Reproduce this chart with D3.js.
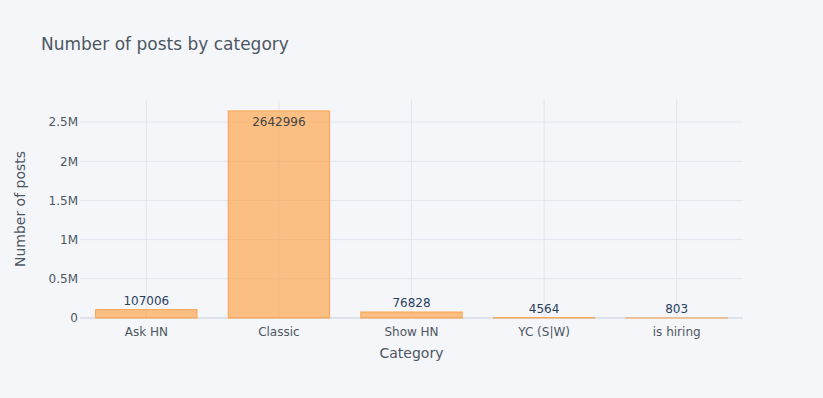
<!DOCTYPE html>
<html>
<head>
<meta charset="utf-8">
<script src="https://cdn.jsdelivr.net/npm/d3@7"></script>
<style>
  body { margin: 0; background: #f5f6f9; }
  svg { display: block; font-family: "DejaVu Sans", Verdana, sans-serif; }
</style>
</head>
<body>
<div id="chart"></div>
<script>
// Data
const categories = ["Ask HN", "Classic", "Show HN", "YC (S|W)", "is hiring"];
const posts = [107006, 2642996, 76828, 4564, 803];
const yTicks = [0, 500000, 1000000, 1500000, 2000000, 2500000];
const yTickLabels = ["0", "0.5M", "1M", "1.5M", "2M", "2.5M"];

const width = 823;
const height = 398;
const margin = { top: 100, right: 80, bottom: 80, left: 80 };

const textColor = "#4d5663";
const gridColor = "#e1e5ed";

const data = categories.map((c, i) => ({ category: c, value: posts[i] }));

const svg = d3.select("#chart")
    .append("svg")
    .attr("width", width)
    .attr("height", height);

svg.append("rect")
    .attr("width", width)
    .attr("height", height)
    .attr("fill", "#f5f6f9");

// Scales
const x = d3.scaleBand()
    .domain(categories)
    .range([margin.left, width - margin.right])
    .paddingInner(0.235)
    .paddingOuter(0.1175);

const y = d3.scaleLinear()
    .domain([0, d3.max(posts) * 1.0526])
    .range([height - margin.bottom, margin.top]);

// Grid
svg.append("g")
    .selectAll("line")
    .data(yTicks.slice(1))
    .join("line")
    .attr("x1", margin.left)
    .attr("x2", width - margin.right)
    .attr("y1", d => y(d))
    .attr("y2", d => y(d))
    .attr("stroke", gridColor);

svg.append("g")
    .selectAll("line")
    .data(categories)
    .join("line")
    .attr("x1", d => x(d) + x.bandwidth() / 2)
    .attr("x2", d => x(d) + x.bandwidth() / 2)
    .attr("y1", margin.top)
    .attr("y2", height - margin.bottom)
    .attr("stroke", gridColor);

// Zero line
svg.append("line")
    .attr("x1", margin.left)
    .attr("x2", width - margin.right)
    .attr("y1", y(0))
    .attr("y2", y(0))
    .attr("stroke", "#dde2ea")
    .attr("stroke-width", 2);

// Bars
svg.selectAll(".bar")
    .data(data)
    .join("rect")
    .attr("class", "bar")
    .attr("x", d => x(d.category))
    .attr("y", d => y(d.value))
    .attr("width", x.bandwidth())
    .attr("height", d => y(0) - y(d.value))
    .attr("fill", "rgba(255,153,51,0.6)")
    .attr("stroke", "rgba(255,153,51,0.8)")
    .attr("stroke-width", 1);

// Axes
const xAxis = svg.append("g")
    .attr("transform", `translate(0,${y(0)})`)
    .call(d3.axisBottom(x).tickSize(0).tickPadding(9));
xAxis.select(".domain").remove();
xAxis.selectAll("text")
    .attr("fill", textColor)
    .style("font-size", "12px")
    .style("font-family", "DejaVu Sans, Verdana, sans-serif");

const yAxis = svg.append("g")
    .attr("transform", `translate(${margin.left},0)`)
    .call(d3.axisLeft(y).tickValues(yTicks).tickFormat((d, i) => yTickLabels[i]).tickSize(0).tickPadding(2));
yAxis.select(".domain").remove();
yAxis.selectAll("text")
    .attr("fill", textColor)
    .style("font-size", "12px")
    .style("font-family", "DejaVu Sans, Verdana, sans-serif");

// Value labels
svg.selectAll(".label")
    .data(data)
    .join("text")
    .attr("class", "label")
    .attr("x", d => x(d.category) + x.bandwidth() / 2)
    .attr("y", d => {
        const top = y(d.value);
        return (y(0) - top) > 30 ? top + 15 : top - 5;
    })
    .attr("text-anchor", "middle")
    .attr("fill", d => (y(0) - y(d.value)) > 30 ? "#444444" : "#2a3f5f")
    .style("font-size", "12px")
    .text(d => d.value);

// Titles
svg.append("text")
    .attr("x", 41)
    .attr("y", 50)
    .attr("fill", textColor)
    .style("font-size", "17px")
    .text("Number of posts by category");

svg.append("text")
    .attr("x", (margin.left + width - margin.right) / 2)
    .attr("y", 358)
    .attr("text-anchor", "middle")
    .attr("fill", textColor)
    .style("font-size", "14px")
    .text("Category");

svg.append("text")
    .attr("transform", `translate(25,${(margin.top + height - margin.bottom) / 2}) rotate(-90)`)
    .attr("text-anchor", "middle")
    .attr("fill", textColor)
    .style("font-size", "14px")
    .text("Number of posts");
</script>
</body>
</html>
